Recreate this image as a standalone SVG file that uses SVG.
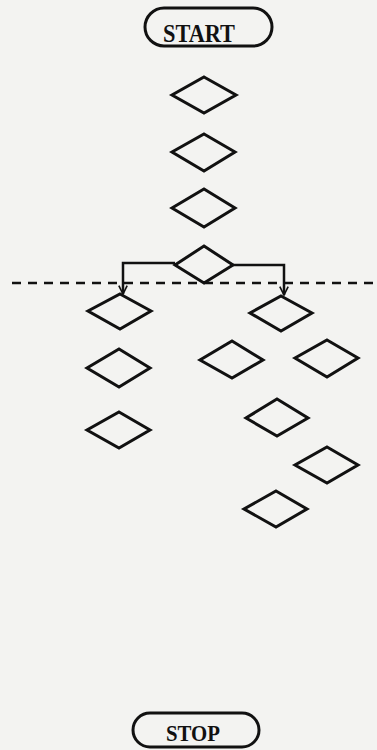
<svg xmlns="http://www.w3.org/2000/svg" width="377" height="750" viewBox="0 0 377 750">
  <defs>
    <marker id="arrowhead" viewBox="0 0 12 12" refX="11" refY="6" markerWidth="10" markerHeight="10" orient="auto" markerUnits="userSpaceOnUse">
      <path d="M1,1 L11,6 L1,11" fill="none" stroke="#111" stroke-width="2"/>
    </marker>
  </defs>
  <style>
    .bg { fill: #f3f3f1; }
    .dia { fill: none; stroke: #111; stroke-width: 3; stroke-linejoin: miter; }
    .term { fill: none; stroke: #111; stroke-width: 3; }
    .lbl { font-family: "Liberation Serif", "DejaVu Serif", serif; font-weight: bold; fill: #111; text-anchor: middle; }
    .conn { fill: none; stroke: #111; stroke-width: 2.5; }
    .dash { fill: none; stroke: #111; stroke-width: 2.5; stroke-dasharray: 9 7; }
  </style>
  <rect class="bg" x="0" y="0" width="377" height="750"/>

  <g id="start">
    <rect class="term" x="145" y="8" width="127" height="38" rx="19" ry="19"/>
    <text class="lbl" x="199" y="42" font-size="25" textLength="72" lengthAdjust="spacingAndGlyphs">START</text>
  </g>

  <g id="d1"><polygon class="dia" points="204,77 236,95 204,113 172,95"/></g>
  <g id="d2"><polygon class="dia" points="204,134 235,152 204,171 172,152"/></g>
  <g id="d3"><polygon class="dia" points="204,189 235,208 204,227 172,208"/></g>
  <g id="d4"><polygon class="dia" points="204,246 233,265 204,283 175,265"/></g>

  <g id="d5"><polygon class="dia" points="120,294 151,311 120,329 88,311"/></g>
  <g id="d6"><polygon class="dia" points="281,296 312,313 281,331 250,313"/></g>
  <g id="d7"><polygon class="dia" points="119,349 150,368 119,387 87,368"/></g>
  <g id="d8"><polygon class="dia" points="232,341 263,360 232,378 200,360"/></g>
  <g id="d9"><polygon class="dia" points="327,340 358,358 327,377 295,358"/></g>
  <g id="d10"><polygon class="dia" points="119,412 150,430 119,448 87,430"/></g>
  <g id="d11"><polygon class="dia" points="277,399 308,418 277,436 246,418"/></g>
  <g id="d12"><polygon class="dia" points="327,447 358,465 327,483 295,465"/></g>
  <g id="d13"><polygon class="dia" points="276,491 307,509 276,527 244,509"/></g>

  <g id="stop">
    <rect class="term" x="133" y="713" width="126" height="34" rx="17" ry="17"/>
    <text class="lbl" x="193" y="741" font-size="24" textLength="54" lengthAdjust="spacingAndGlyphs">STOP</text>
  </g>

  <g id="connectors">
    <path class="conn" d="M175,263 L123,263 L123,294" marker-end="url(#arrowhead)"/>
    <path class="conn" d="M233,265 L284,265 L284,295" marker-end="url(#arrowhead)"/>
    <line class="dash" x1="12" y1="283" x2="377" y2="283"/>
  </g>
</svg>
